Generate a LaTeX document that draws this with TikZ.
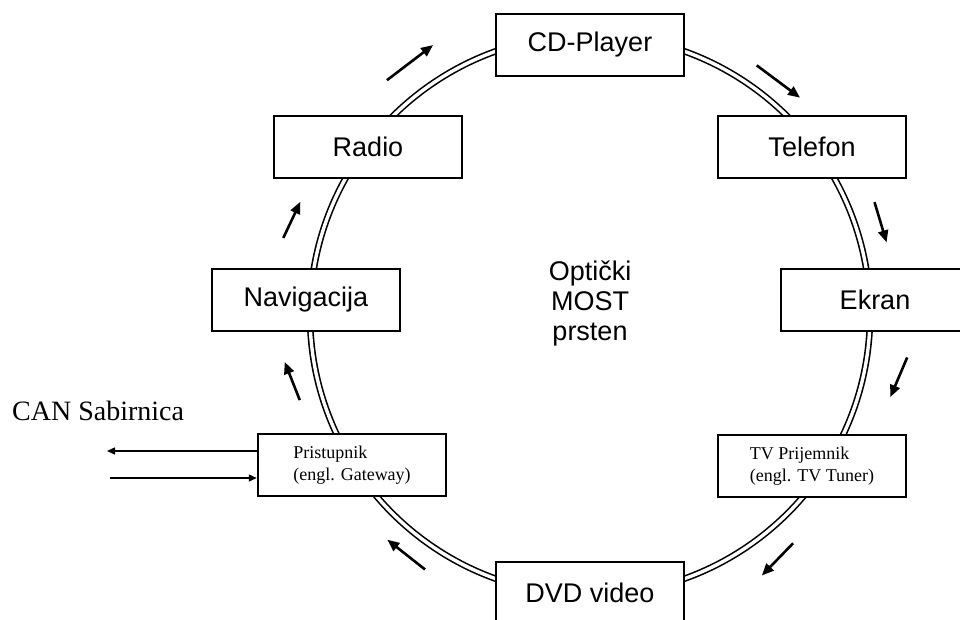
\documentclass[tikz,border=0pt]{standalone}
\usepackage{fontspec}
\setmainfont{Liberation Sans}
\newfontfamily\tnr{Liberation Serif}
\usetikzlibrary{arrows.meta}
\tikzstyle{unit}=[draw,fill=white,line width=2.5pt,inner sep=0pt,minimum width=188pt,minimum height=62pt,font=\fontsize{27}{30}\selectfont]
\tikzstyle{gate}=[unit,align=left,font=\tnr\fontsize{18}{22}\selectfont]
\tikzstyle{ring}=[draw,line width=1.6pt,double,double distance=3.4pt]
\tikzstyle{flow}=[line width=2.6pt,-{Triangle[length=12pt,width=10pt]}]
\tikzstyle{bus}=[line width=1.5pt,-{Triangle[length=8pt,width=7pt]}]

\begin{document}
\begin{tikzpicture}[x=1pt,y=-1pt]
    \fill[white] (0,0) rectangle (960,620);
    \useasboundingbox (0,0) rectangle (960,620);
    \coordinate (c) at (590,315);
    \draw[ring] (c) circle (280pt);
    \foreach \n/\p/\t in {cd/{590,45}/CD-Player, radio/{368,147}/Radio, tel/{812,147}/Telefon, nav/{306,300}/Navigacija, ekran/{875,300}/Ekran, dvd/{590,593}/DVD video}
        \node[unit] (\n) at (\p) {\t};
    \node[gate] (gw) at (352,465) {Pristupnik\\(engl. Gateway)};
    \node[gate] (tv) at (812,466) {TV Prijemnik\\(engl. TV Tuner)};
    \node[align=center,font=\fontsize{27}{30}\selectfont] (most) at (590,303) {Optički\\MOST\\prsten};
    % smjer kruzenja (kutovi na zaslonu, y prema dolje)
    \foreach \a/\r/\d/\l in {-125.5/310/-37.3/58, -51.1/300/36.7/54, -17.7/305/73.3/42, 11.4/315/113/43, 52.5/308/134.1/45, 127.5/302/-141.7/48, 167.5/305/-111.5/41, -162.3/313/-64.7/40}
        \draw[flow] (c) ++(\a:\r) ++(\d:-\l/2) -- ++(\d:\l);
    % CAN
    \node[font=\tnr\fontsize{28}{30}\selectfont,anchor=base west,inner sep=0pt] (can) at (12,420) {CAN Sabirnica};
    \coordinate (canout) at (107,451);
    \coordinate (canin) at (110,478);
    \draw[bus] (gw.west |- canout) -- (canout);
    \draw[bus] (canin) -- (gw.west |- canin);
\end{tikzpicture}
\end{document}
